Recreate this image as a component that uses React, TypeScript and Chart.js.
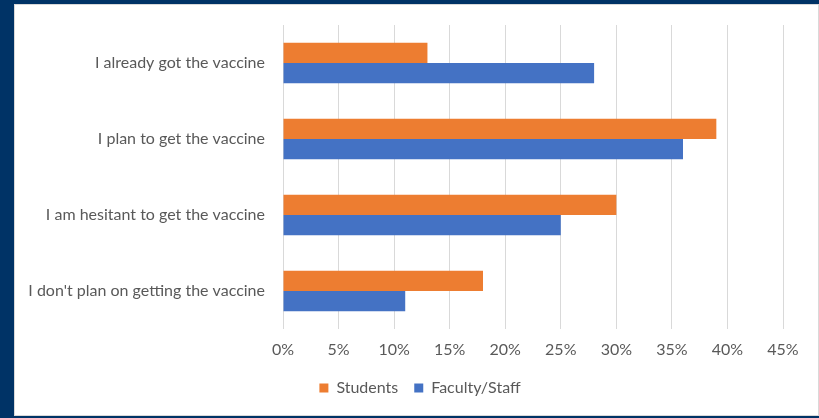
import React, { useEffect, useRef } from "react";
import { Chart, registerables } from "chart.js";

Chart.register(...registerables);

const categories = [
  "I already got the vaccine",
  "I plan to get the vaccine",
  "I am hesitant to get the vaccine",
  "I don't plan on getting the vaccine",
];
const students = [13, 39, 30, 18];
const facultyStaff = [28, 36, 25, 11];
const seriesNames = ["Students", "Faculty/Staff"];
const xMax = 45;
const xStep = 5;

const FONT = "Lato, 'Open Sans', sans-serif";
const TEXT = "#595959";

export default function App() {
  const ref = useRef<HTMLCanvasElement | null>(null);

  useEffect(() => {
    if (!ref.current) return;
    const chart = new Chart(ref.current, {
      type: "bar",
      data: {
        labels: categories,
        datasets: [
          {
            label: seriesNames[0],
            data: students,
            backgroundColor: "#ED7D31",
            categoryPercentage: 0.53,
            barPercentage: 1,
          },
          {
            label: seriesNames[1],
            data: facultyStaff,
            backgroundColor: "#4472C4",
            categoryPercentage: 0.53,
            barPercentage: 1,
          },
        ],
      },
      options: {
        indexAxis: "y",
        animation: false,
        responsive: false,
        maintainAspectRatio: false,
        layout: { padding: { top: 20, right: 0, left: 7, bottom: 9 } },
        scales: {
          x: {
            min: 0,
            max: xMax,
            border: { display: false },
            grid: { color: "#D9D9D9", drawTicks: false, lineWidth: 1 },
            ticks: {
              stepSize: xStep,
              padding: 11,
              color: TEXT,
              font: { family: FONT, size: 16 },
              callback: (v: any) => `${v}%`,
            },
            afterFit: (scale: any) => {
              scale.height = 35;
              scale.paddingRight = 35;
            },
          },
          y: {
            border: { display: false },
            grid: { display: false, drawTicks: false },
            ticks: {
              padding: 18,
              color: TEXT,
              font: { family: FONT, size: 16 },
            },
            afterFit: (scale: any) => {
              scale.width = 261;
              scale.paddingTop = 0;
              scale.paddingBottom = 0;
            },
          },
        },
        plugins: {
          legend: {
            position: "bottom",
            labels: {
              boxWidth: 9,
              boxHeight: 9,
              padding: 16,
              color: TEXT,
              font: { family: FONT, size: 16 },
            },
          },
          tooltip: { enabled: false },
        },
      },
    });
    return () => chart.destroy();
  }, []);

  return (
    <div
      style={{
        position: "fixed",
        left: 0,
        top: 0,
        width: 819,
        height: 418,
        background: "#003366",
      }}
    >
      <div
        style={{
          position: "absolute",
          left: 14,
          top: 4,
          width: 803,
          height: 410,
          background: "#ffffff",
          border: "1px solid #D9D9D9",
        }}
      >
        <canvas ref={ref} width={803} height={410} style={{ display: "block" }} />
      </div>
    </div>
  );
}
